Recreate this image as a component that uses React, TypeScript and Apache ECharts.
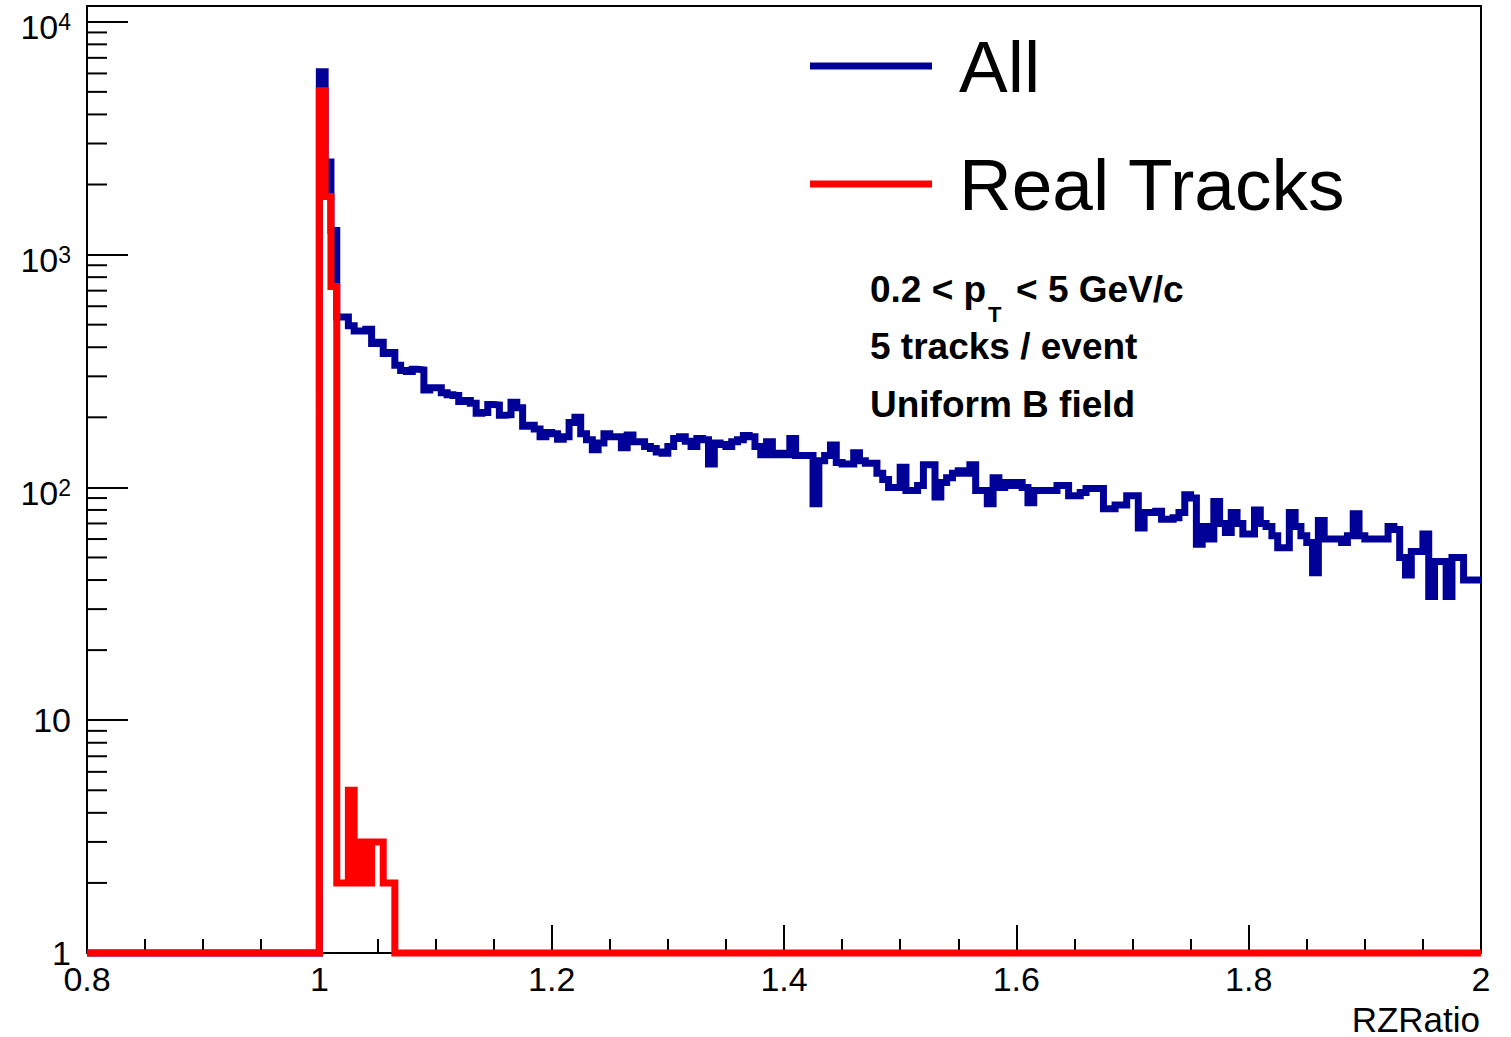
import React, { useEffect, useRef } from "react";
import * as echarts from "echarts";

// Histogram binning
const X_MIN = 0.8;
const X_MAX = 2.0;
const X_TICK_STEP = 0.2;
const BIN_WIDTH = 0.005;
const FIRST_FILLED_EDGE = 1.0; // every bin below this edge is empty
const Y_MIN = 1;
const Y_MAX = 11690;

const X_TITLE = "RZRatio";

// Entries per bin, starting at RZRatio = 1.000
const ALL_COUNTS = [
  6100, 2500, 1270, 540, 540, 495, 470, 470, 478, 415,
  420, 376, 380, 335, 318, 315, 322, 320, 262, 268,
  268, 255, 250, 248, 234, 236, 230, 208, 210, 227,
  226, 204, 205, 232, 220, 183, 185, 178, 165, 172,
  170, 161, 165, 190, 200, 170, 160, 145, 155, 170,
  165, 165, 148, 168, 157, 157, 150, 147, 142, 140,
  150, 162, 165, 158, 150, 162, 160, 126, 155, 153,
  150, 157, 160, 167, 165, 150, 138, 157, 138, 140,
  138, 162, 137, 137, 137, 85, 130, 137, 152, 128,
  126, 126, 141, 130, 127, 127, 115, 108, 100, 100,
  122, 97, 97, 102, 125, 125, 91, 105, 110, 115,
  118, 115, 125, 97, 97, 85, 110, 100, 105, 102,
  105, 100, 86, 97, 97, 97, 97, 102, 102, 92,
  92, 95, 99, 99, 99, 81, 81, 84, 84, 92,
  92, 67, 78, 78, 79, 73, 73, 74, 78, 93,
  90, 57, 68, 60, 87, 70, 64, 78, 70, 63,
  63, 80, 70, 68, 62, 55, 55, 78, 68, 62,
  58, 43, 72, 60, 60, 60, 58, 62, 77, 62,
  60, 60, 60, 60, 68, 66, 50, 42, 53, 53,
  63, 34, 48, 48, 34, 50, 50, 40, 40, 40,
];

// Entries per bin for real tracks, starting at RZRatio = 1.000; later bins are empty
const REAL_COUNTS = [5060, 1775, 730, 2, 2, 5, 2, 3, 2, 3, 3, 2, 2];

const DECADES = [1, 10, 100, 1000, 10000];
const MINOR_STEPS = [2, 3, 4, 5, 6, 7, 8, 9];

const LEGEND_ITEMS = [
  { label: "All", color: "#000099", y: 66 },
  { label: "Real Tracks", color: "#ff0000", y: 184 },
];

const INFO_LINES = ["5 tracks / event", "Uniform B field"];

const FONT = "'Liberation Sans', Arial, Helvetica, sans-serif";

function histogramPoints(counts: number[]): [number, number][] {
  const pts: [number, number][] = [[X_MIN, Y_MIN]];
  counts.forEach((c, i) => {
    pts.push([FIRST_FILLED_EDGE + i * BIN_WIDTH, Math.max(c, Y_MIN)]);
  });
  const end = FIRST_FILLED_EDGE + counts.length * BIN_WIDTH;
  if (end < X_MAX - 1e-9) {
    pts.push([end, Y_MIN]);
    pts.push([X_MAX, Y_MIN]);
  } else {
    pts.push([X_MAX, Math.max(counts[counts.length - 1], Y_MIN)]);
  }
  return pts;
}

function isDecade(v: number): boolean {
  const l = Math.log10(v);
  return Math.abs(l - Math.round(l)) < 1e-6;
}

export default function App() {
  const ref = useRef<HTMLDivElement>(null);

  useEffect(() => {
    if (!ref.current) return;
    const chart = echarts.init(ref.current, undefined, { renderer: "svg" });

    const minorTicks: [number, number][] = [];
    DECADES.forEach((d) => {
      MINOR_STEPS.forEach((m) => {
        const v = d * m;
        if (v < Y_MAX) minorTicks.push([X_MIN, v]);
      });
    });

    const graphics: any[] = [];
    LEGEND_ITEMS.forEach((item) => {
      graphics.push({
        type: "line",
        shape: { x1: 810, y1: item.y, x2: 932, y2: item.y },
        style: { stroke: item.color, lineWidth: 7 },
      });
      graphics.push({
        type: "text",
        x: 959,
        y: item.y,
        style: {
          text: item.label,
          fontSize: 73,
          lineHeight: 73,
          fontFamily: FONT,
          fill: "#000",
          align: "left",
          verticalAlign: "middle",
        },
      });
    });

    const infoStyle = (text: string, size: number) => ({
      text,
      fontSize: size,
      lineHeight: size,
      fontWeight: "bold",
      fontFamily: FONT,
      fill: "#000",
      align: "left",
      verticalAlign: "middle",
    });
    graphics.push({ type: "text", x: 870, y: 289, style: infoStyle("0.2 < p", 37) });
    graphics.push({ type: "text", x: 988, y: 314, style: infoStyle("T", 22) });
    graphics.push({ type: "text", x: 1016, y: 289, style: infoStyle("< 5 GeV/c", 37) });
    INFO_LINES.forEach((t, i) => {
      graphics.push({ type: "text", x: 870, y: 346 + i * 58, style: infoStyle(t, 37) });
    });

    // x-axis title, right-aligned under the end of the axis
    graphics.push({
      type: "text",
      x: 1480,
      y: 1019,
      style: {
        text: X_TITLE,
        fontSize: 35,
        lineHeight: 30,
        fontFamily: FONT,
        fill: "#000",
        align: "right",
        verticalAlign: "middle",
      },
    });

    chart.setOption({
      animation: false,
      backgroundColor: "#fff",
      textStyle: { fontFamily: FONT },
      grid: {
        left: 87,
        right: 30,
        top: 6,
        bottom: 84,
        show: true,
        borderColor: "#000",
        borderWidth: 2,
        backgroundColor: "transparent",
        containLabel: false,
        outerBoundsMode: "none",
      },
      xAxis: {
        type: "value",
        min: X_MIN,
        max: X_MAX,
        interval: X_TICK_STEP,
        axisLine: { show: true, lineStyle: { color: "#000", width: 2 } },
        axisTick: { show: true, inside: true, length: 28, lineStyle: { color: "#000", width: 2 } },
        minorTick: { show: true, splitNumber: 4, length: 14, lineStyle: { color: "#000", width: 2 } },
        splitLine: { show: false },
        minorSplitLine: { show: false },
        axisLabel: {
          fontSize: 34,
          lineHeight: 26,
          fontFamily: FONT,
          color: "#000",
          margin: 13,
          showMinLabel: true,
          showMaxLabel: true,
        },
      },
      yAxis: {
        type: "log",
        logBase: 10,
        min: Y_MIN,
        max: Y_MAX,
        axisLine: { show: true, lineStyle: { color: "#000", width: 2 } },
        axisTick: { show: true, inside: true, length: 41, lineStyle: { color: "#000", width: 2 } },
        splitLine: { show: false },
        axisLabel: {
          fontSize: 34,
          lineHeight: 26,
          fontFamily: FONT,
          color: "#000",
          margin: 16,
          showMinLabel: true,
          showMaxLabel: true,
          formatter: (v: number) => {
            if (!isDecade(v)) return "";
            const e = Math.round(Math.log10(v));
            if (e === 0) return "1";
            if (e === 1) return "10";
            return `{b|10}{s|${e}}`;
          },
          rich: {
            b: { fontSize: 34, lineHeight: 34, fontFamily: FONT, color: "#000", padding: [11, 0, 0, 0] },
            s: { fontSize: 23, lineHeight: 23, fontFamily: FONT, color: "#000", verticalAlign: "top", padding: [6, 0, 0, 0] },
          },
        },
      },
      series: [
        {
          type: "custom",
          name: "minor y ticks",
          silent: true,
          z: 1,
          data: minorTicks,
          renderItem: (_params: any, api: any) => {
            const p = api.coord([api.value(0), api.value(1)]);
            return {
              type: "line",
              shape: { x1: p[0], y1: p[1], x2: p[0] + 20, y2: p[1] },
              style: { stroke: "#000", lineWidth: 2 },
            };
          },
        },
        {
          type: "line",
          name: "All",
          step: "end",
          data: histogramPoints(ALL_COUNTS),
          showSymbol: false,
          symbol: "none",
          clip: false,
          z: 3,
          lineStyle: { color: "#000099", width: 7, join: "miter", cap: "butt" },
        },
        {
          type: "line",
          name: "Real Tracks",
          step: "end",
          data: histogramPoints(REAL_COUNTS),
          showSymbol: false,
          symbol: "none",
          clip: false,
          z: 4,
          lineStyle: { color: "#ff0000", width: 7, join: "miter", cap: "butt" },
        },
      ],
      graphic: graphics,
    });

    return () => chart.dispose();
  }, []);

  return (
    <div
      ref={ref}
      style={{ position: "absolute", left: 0, top: 0, width: 1511, height: 1037 }}
    />
  );
}
